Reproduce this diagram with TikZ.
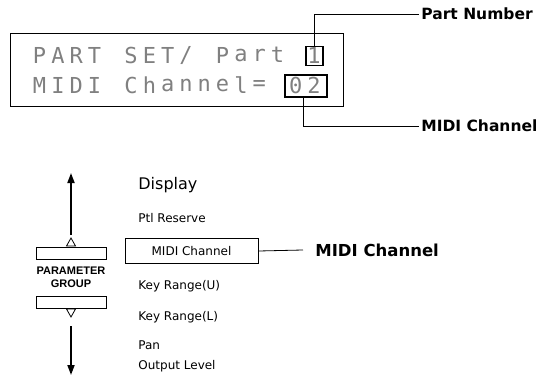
\documentclass[tikz,border=0pt]{standalone}
\usepackage{fontspec}
\setmainfont{DejaVu Sans}
\newfontfamily\lcdfont{DejaVu Sans Mono}
\newfontfamily\pgfont{Liberation Sans}
\usetikzlibrary{arrows.meta}
\begin{document}
\begin{tikzpicture}[x=1pt,y=-1pt,line width=0.8pt,
  lcdchar/.style={font=\lcdfont\fontsize{22}{22}\selectfont, text=black!50, inner sep=0pt, anchor=center},
  hilite/.style={draw, line width=1.1pt, inner sep=0pt},
  lab/.style={font=\bfseries\fontsize{15.5}{17}\selectfont, anchor=west, inner sep=2pt},
  biglab/.style={font=\bfseries\fontsize{16.5}{18}\selectfont, anchor=west, inner sep=0pt},
  item/.style={font=\fontsize{12}{14}\selectfont, anchor=west, inner sep=0pt},
  btn/.style={draw, minimum width=70pt, minimum height=12pt, inner sep=0pt},
  arr/.style={-{Triangle[length=10pt,width=7pt]}, line width=1.8pt}]
\useasboundingbox (0,0) rectangle (544,378);

% LCD frame
\node[draw, minimum width=332.6pt, minimum height=73pt, inner sep=0pt] (lcdframe) at (176.7,69.5) {};
\foreach \ch [count=\i from 0] in {P,A,R,T,{},S,E,T,{/},{},P,a,r,t,{},1}
  \node[lcdchar] (ra\i) at ({39.6+18.3*\i},55) {\ch};
\foreach \ch [count=\i from 0] in {M,I,D,I,{},C,h,a,n,n,e,l,=,{},0,2}
  \node[lcdchar] (rb\i) at ({39.6+18.3*\i},85.5) {\ch};

\node[hilite, minimum width=17pt, minimum height=19pt] (one) at (314.5,56) {};
\node[hilite, minimum width=42pt, minimum height=22pt] (oz) at (306,86) {};

\node[lab] (pn) at (419,14) {Part Number};
\node[lab] (mc) at (419,126) {MIDI Channel};
\draw (one.north) |- (pn.west);
\draw ([xshift=-3pt]oz.south) |- (mc.west);

% parameter group buttons
\node[btn] (ub) at (71,253) {};
\node[btn] (lb) at (71,302) {};
\node[font=\pgfont\bfseries\fontsize{11}{13}\selectfont, align=center, inner sep=0pt] (pg) at (71,277.5) {PARAMETER\\GROUP};

\coordinate (ut) at (71,238);
\coordinate (dt) at (71,317);
\draw (ut) -- ++(4.5,8) -- ++(-9,0) -- cycle;
\draw (dt) -- ++(4.5,-8) -- ++(-9,0) -- cycle;
\coordinate (uptip) at (71,173);
\coordinate (downtip) at (71,375);
\coordinate (upstart) at (71,235);
\coordinate (downstart) at (71,326);
\draw[arr] (upstart) -- (uptip);
\draw[arr] (downstart) -- (downtip);

% display list
\node[item, font=\fontsize{16}{18}\selectfont] (disp) at (138,185) {Display};
\node[item] (ptl) at (138,218) {Ptl Reserve};
\node[draw, minimum width=133pt, minimum height=25pt, inner sep=0pt, font=\fontsize{12}{14}\selectfont] (mcbox) at (191.5,251) {MIDI Channel};
\node[item] (kru) at (138,286) {Key Range(U)};
\node[item] (krl) at (138,317) {Key Range(L)};
\node[item] (pan) at (138,345) {Pan};
\node[item] (out) at (138,366) {Output Level};

\node[biglab, inner sep=0pt] (mc2) at (315,250) {MIDI Channel};
\coordinate (mcend) at (303,250);
\draw (mcbox.east) -- (mcend);
\end{tikzpicture}
\end{document}
